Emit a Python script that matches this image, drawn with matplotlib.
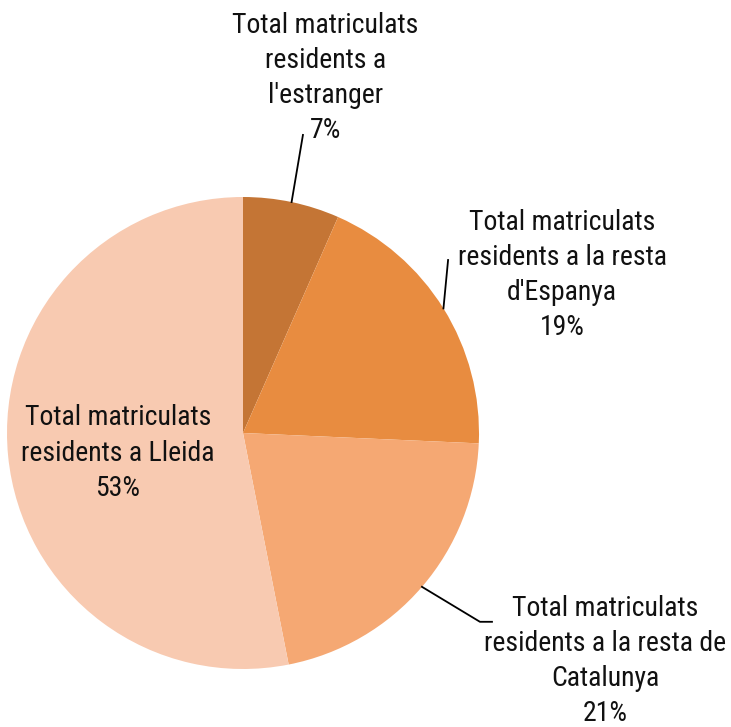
import numpy as np
import matplotlib
matplotlib.use("Agg")
import matplotlib.pyplot as plt

categories = ["Total matriculats\nresidents a\nl'estranger",
              "Total matriculats\nresidents a la resta\nd'Espanya",
              "Total matriculats\nresidents a la resta de\nCatalunya",
              "Total matriculats\nresidents a Lleida"]
values = [6.6, 19.1, 21.2, 53.1]
colors = ["#C47535", "#E88C40", "#F5A873", "#F8CAB1"]

plt.rcParams['font.family'] = ['Roboto Condensed', 'DejaVu Sans']

W, H = 731, 727
fig = plt.figure(figsize=(W / 100, H / 100), dpi=100)
cx, cy, R = 243, 433, 236
ax = fig.add_axes([(cx - R) / W, (H - cy - R) / H, 2 * R / W, 2 * R / H])
ax.axis('off')

wedges, _ = ax.pie(values, colors=colors, startangle=90, counterclock=False,
                   radius=1, wedgeprops=dict(linewidth=0))
ax.set_xlim(-1, 1)
ax.set_ylim(-1, 1)

total = sum(values)
pcts = [f"{int(v / total * 100 + 0.5):d}%" for v in values]

# label placement (data units, radius = 1)
label_pos = [(0.35, 1.504), (1.352, 0.669), (1.534, -0.966), (-0.53, -0.085)]
leader_end = [(0.254, 1.263), (0.869, 0.733), None, None]

fs = 20
for i, w in enumerate(wedges):
    ang = np.deg2rad((w.theta1 + w.theta2) / 2)
    sx, sy = np.cos(ang), np.sin(ang)
    txt = categories[i] + "\n" + pcts[i]
    ax.text(label_pos[i][0], label_pos[i][1], txt, ha='center', va='center',
            fontsize=fs, linespacing=1.39, color='#111111', clip_on=False)
    if leader_end[i] is not None:
        ex, ey = leader_end[i]
        ax.plot([sx, ex], [sy, ey], color='black', lw=1.3, clip_on=False)
    elif i == 2:
        ax.plot([sx, 1.004, 1.055], [sy, -0.80, -0.80], color='black', lw=1.3, clip_on=False)

fig.savefig("out.png", dpi=100, facecolor='white')
